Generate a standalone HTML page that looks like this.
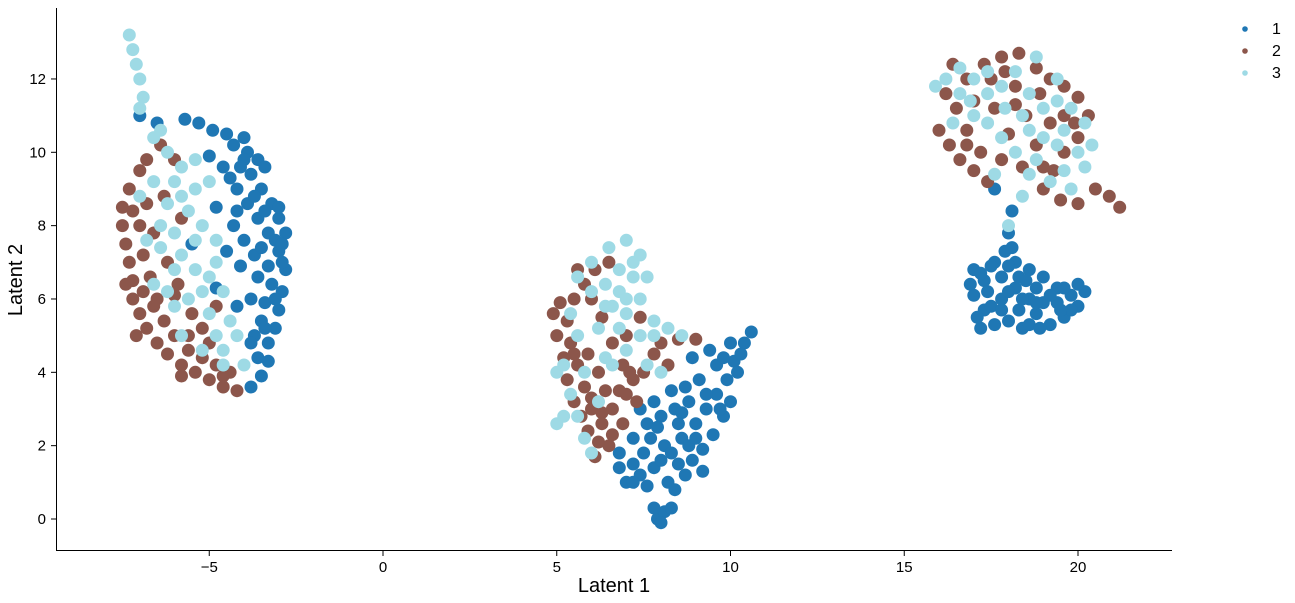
<!DOCTYPE html>
<html><head><meta charset="utf-8">
<style>
html,body{margin:0;padding:0;background:#fff;}
svg{display:block;font-family:"Liberation Sans","DejaVu Sans",sans-serif;}
</style></head>
<body>
<svg id="chart" width="1295" height="603" viewBox="0 0 1295 603" xmlns="http://www.w3.org/2000/svg">
  <g id="points"></g>
  <g id="axes"></g>
  <text x="614" y="592" font-size="20" text-anchor="middle" fill="#000">Latent 1</text>
  <text x="22" y="280" font-size="20" text-anchor="middle" fill="#000" transform="rotate(-90 22 280)">Latent 2</text>
  <g>
    <g><circle cx="1245" cy="29" r="2.8" fill="#1f77b4"/><text x="1272" y="34" font-size="16">1</text></g>
    <g><circle cx="1245" cy="51" r="2.8" fill="#8c564b"/><text x="1272" y="56" font-size="16">2</text></g>
    <g><circle cx="1245" cy="73" r="2.8" fill="#9edae5"/><text x="1272" y="78" font-size="16">3</text></g>
  </g>
</svg>
<script>
const xTicks = [-5, 0, 5, 10, 15, 20];
const yTicks = [0, 2, 4, 6, 8, 10, 12];
const series1 = [
-4.5,10.5,-4.0,10.4,-3.6,9.8,-3.8,9.4,-4.2,9.0,-3.5,9.0,-3.2,8.6,-3.0,8.2,-2.8,7.8,-3.3,7.8,-3.6,8.2,-3.9,8.6,-4.3,8.0,-3.0,7.3,-2.8,6.8,-3.3,6.9,-3.7,7.2,-4.0,7.6,-2.9,6.2,-3.2,6.4,-3.6,6.6,-4.1,6.9,-3.0,5.7,-3.4,5.9,-3.8,6.0,-3.1,5.2,-3.5,5.4,-3.3,4.8,-3.6,4.4,-3.5,3.9,-3.8,3.6,-4.6,9.6,-4.9,10.6,-5.3,10.8,-5.7,10.9,-4.4,9.3,-3.9,10.0,-4.8,8.5,-4.5,7.3,-4.8,6.3,-3.7,5.0,-4.2,5.8,-2.9,7.0,-3.0,8.5,-3.4,9.6,-4.0,9.8,-5.0,9.9,-6.5,10.8,-7.0,11.0,-5.5,7.5,
-4.3,10.2,-3.4,8.4,-3.1,7.6,-3.5,7.4,-3.1,6.0,-3.4,5.2,-3.8,4.8,-4.1,9.6,-3.7,8.8,-4.2,8.4,-2.9,7.5,-3.3,4.3,
7.6,0.9,7.9,0.0,8.1,0.2,8.3,0.3,7.8,0.3,8.0,-0.1,7.4,1.2,7.8,1.4,8.2,1.0,8.5,1.5,8.9,1.6,9.2,1.9,9.5,2.3,9.0,2.6,8.6,2.2,8.1,2.0,7.5,1.8,7.2,2.2,7.6,2.6,8.0,2.8,8.4,3.0,8.8,3.2,9.3,3.0,9.6,3.4,9.9,3.8,10.1,4.3,10.4,4.8,10.6,5.1,10.0,4.8,9.6,4.2,9.1,3.8,8.7,3.6,8.3,3.5,7.8,3.2,7.4,3.0,9.8,2.8,10.0,3.2,9.4,4.6,8.9,4.4,8.5,2.6,7.0,1.0,6.8,1.4,8.0,1.6,9.2,1.3,9.7,3.0,10.2,4.0,8.8,2.0,7.7,2.2,6.8,1.8,8.4,0.8,
7.2,1.5,8.3,1.8,9.0,2.2,9.3,3.4,8.6,2.9,7.9,2.5,7.2,1.0,8.7,1.2,9.8,4.4,10.3,4.5,
17.0,6.8,17.3,6.5,17.6,7.0,17.9,7.3,18.2,7.0,18.6,6.8,19.0,6.6,19.4,6.3,19.8,6.1,20.2,6.2,20.0,5.8,19.6,5.5,19.2,5.3,18.8,5.6,18.4,5.2,18.0,5.4,17.6,5.3,17.3,5.7,17.0,6.1,16.9,6.4,17.4,6.2,17.8,6.0,18.2,6.3,18.6,6.0,19.0,5.9,19.4,5.9,18.3,5.7,17.8,6.6,18.3,6.6,18.8,6.3,19.6,6.3,18.1,7.4,18.0,7.8,18.1,8.4,17.6,9.0,20.0,6.4,17.2,5.2,18.6,5.3,19.8,5.7,17.5,6.9,
17.1,5.5,17.5,5.8,18.0,6.2,18.5,6.5,19.2,6.1,19.5,5.7,18.9,5.2,17.8,5.7,18.4,6.0,17.2,6.7,18.0,6.9,18.8,5.9
];
const series2 = [
-7.5,8.0,-7.4,7.5,-7.3,7.0,-7.2,6.5,-7.2,6.0,-7.0,5.6,-6.8,5.2,-6.5,4.8,-6.2,4.5,-5.8,4.2,-5.4,4.0,-5.0,3.8,-4.6,3.6,-4.2,3.5,-7.5,8.5,-7.3,9.0,-7.0,9.5,-6.8,8.6,-7.0,8.0,-6.9,7.2,-6.7,6.6,-6.5,6.0,-6.3,5.4,-6.0,5.0,-5.6,4.6,-5.2,4.4,-4.8,4.2,-5.5,5.6,-5.9,6.4,-6.2,7.0,-6.0,6.1,-5.2,5.2,-4.8,5.8,-5.8,8.2,-6.3,8.8,-7.4,6.4,-7.1,5.0,-6.6,7.8,-5.0,4.8,-4.4,4.0,-6.4,10.2,-6.0,9.8,
-6.6,5.8,-5.6,5.0,-6.8,9.8,-7.2,8.4,-6.9,6.2,-5.8,3.9,-4.6,3.9,
4.9,5.6,5.0,5.0,5.2,4.4,5.3,3.8,5.5,3.2,5.7,2.8,5.9,2.4,6.2,2.1,6.5,2.0,6.3,2.6,6.0,3.0,5.8,3.6,5.6,4.2,5.4,4.8,5.3,5.4,5.5,6.0,5.8,6.4,6.1,6.8,6.5,7.0,6.0,6.0,6.3,5.5,6.6,4.8,6.9,4.2,7.2,3.8,7.5,4.0,7.8,4.5,6.8,3.5,6.6,3.0,6.9,2.6,7.3,3.2,8.0,4.8,8.5,4.9,9.0,4.9,8.2,4.2,6.2,4.0,5.9,4.5,5.1,5.9,5.6,6.8,7.0,5.0,7.4,5.5,6.1,1.7,6.4,3.5,
6.6,2.3,7.0,3.4,6.3,2.9,5.5,4.5,6.0,3.3,7.1,4.0,
16.0,10.6,16.3,10.2,16.6,9.8,17.0,9.5,17.4,9.2,17.2,10.0,16.8,10.6,16.5,11.2,16.2,11.6,16.8,12.0,17.3,12.4,17.8,12.6,18.3,12.7,18.8,12.3,19.2,12.0,19.6,11.8,20.0,11.5,20.3,11.0,20.0,10.4,19.6,10.0,19.3,9.5,19.0,9.0,19.5,8.7,20.0,8.6,20.5,9.0,20.9,8.8,21.2,8.5,18.5,11.0,18.0,10.5,17.6,11.2,18.2,11.8,18.8,10.2,18.4,9.6,17.8,9.8,19.2,10.8,17.5,12.0,16.4,12.4,19.6,11.0,
17.0,11.4,17.9,12.2,18.9,11.6,19.9,10.8,18.2,11.3,16.8,10.2,19.0,9.6
];
const series3 = [
-7.3,13.2,-7.2,12.8,-7.1,12.4,-7.0,12.0,-6.9,11.5,-7.0,11.2,-6.6,10.4,-6.2,10.0,-5.8,9.6,-5.4,9.8,-5.0,9.2,-6.6,9.2,-6.2,8.6,-5.6,8.4,-5.2,8.0,-4.8,7.6,-6.8,7.6,-6.4,7.4,-5.8,7.2,-5.4,6.8,-5.0,6.6,-4.6,6.2,-6.6,6.4,-6.2,6.2,-5.6,6.0,-5.0,5.6,-4.4,5.4,-4.2,5.0,-4.6,4.6,-5.2,4.6,-5.8,5.0,-6.0,5.8,-4.6,4.2,-4.0,4.2,-6.4,8.0,-5.8,8.8,-7.0,8.8,-4.8,7.0,-5.4,7.6,-6.0,7.8,
-6.0,9.2,-5.4,9.0,-6.0,6.8,-5.2,6.2,-4.8,5.0,-6.4,10.6,
6.0,7.0,6.5,7.4,7.0,7.6,7.4,7.2,7.2,6.6,6.8,6.2,6.4,6.4,7.6,6.6,7.4,6.0,7.0,5.6,6.6,5.8,6.2,5.2,6.8,5.2,7.4,5.0,7.8,5.4,8.2,5.2,8.6,5.0,5.6,5.0,5.2,4.2,5.0,4.0,5.4,3.4,5.6,2.8,5.8,2.2,6.0,1.8,5.2,2.8,5.0,2.6,5.8,4.0,6.4,4.4,7.0,4.6,7.6,4.2,5.4,5.6,6.0,6.2,5.6,6.6,8.0,4.0,6.2,3.2,7.2,7.0,
6.8,6.8,7.0,6.0,6.4,5.8,7.8,5.0,6.6,4.2,
15.9,11.8,16.2,12.0,16.6,12.3,17.0,12.0,17.4,11.6,17.8,11.8,18.2,12.2,18.6,11.6,19.0,11.2,19.4,11.4,19.8,11.2,20.2,10.8,20.4,10.2,20.0,10.0,19.6,9.5,19.2,9.2,18.6,9.4,18.2,10.0,17.8,10.4,17.4,10.8,17.0,11.0,16.6,11.6,18.6,10.6,19.0,10.4,19.8,9.0,20.2,9.6,18.0,8.0,18.4,8.8,17.9,11.2,16.4,10.8,19.4,12.0,18.8,12.6,17.6,9.4,
19.4,10.2,18.8,9.8,17.4,12.2,16.9,11.4,18.4,11.0,19.6,10.6
];
const seriesNames = ['1','2','3'];

const NS = 'http://www.w3.org/2000/svg';
const X0 = 383, XS = 34.75, Y0 = 519, YS = 36.67;
function sx(v){ return X0 + v*XS; }
function sy(v){ return Y0 - v*YS; }

const axes = document.getElementById('axes');
function mk(tag, attrs, parent){ const e=document.createElementNS(NS,tag); for(const k in attrs) e.setAttribute(k, attrs[k]); parent.appendChild(e); return e; }
const yAxisLine = mk('line',{x1:56.5,y1:8,x2:56.5,y2:550.5,stroke:'#000','stroke-width':1},axes);


const xAxisLine = mk('line',{x1:56,y1:550.5,x2:1172,y2:550.5,stroke:'#000','stroke-width':1},axes);


xTicks.forEach(t=>{
  const x=sx(t);
  const tk = mk('line',{x1:x,y1:550.5,x2:x,y2:556,stroke:'#000'},axes);
  
  
  const lb = mk('text',{x:x,y:572,'font-size':15,'text-anchor':'middle'},axes);
  lb.textContent = t<0 ? '\u2212'+Math.abs(t) : String(t);
  
  
});
yTicks.forEach(t=>{
  const y=sy(t);
  const tk = mk('line',{x1:51,y1:y,x2:56.5,y2:y,stroke:'#000'},axes);
  
  
  const lb = mk('text',{x:46,y:y+5,'font-size':15,'text-anchor':'end'},axes);
  lb.textContent = String(t);
  
  
});

const pts = document.getElementById('points');
const colors = ['#1f77b4','#8c564b','#9edae5'];
[series1, series2, series3].forEach((arr, si)=>{
  const g = mk('g',{fill:colors[si]},pts);
  
  
  for(let i=0;i<arr.length;i+=2){
    const c = mk('circle',{cx:sx(arr[i]).toFixed(1),cy:sy(arr[i+1]).toFixed(1),r:6.5},g);
    
    
  }
});
</script>
</body></html>
